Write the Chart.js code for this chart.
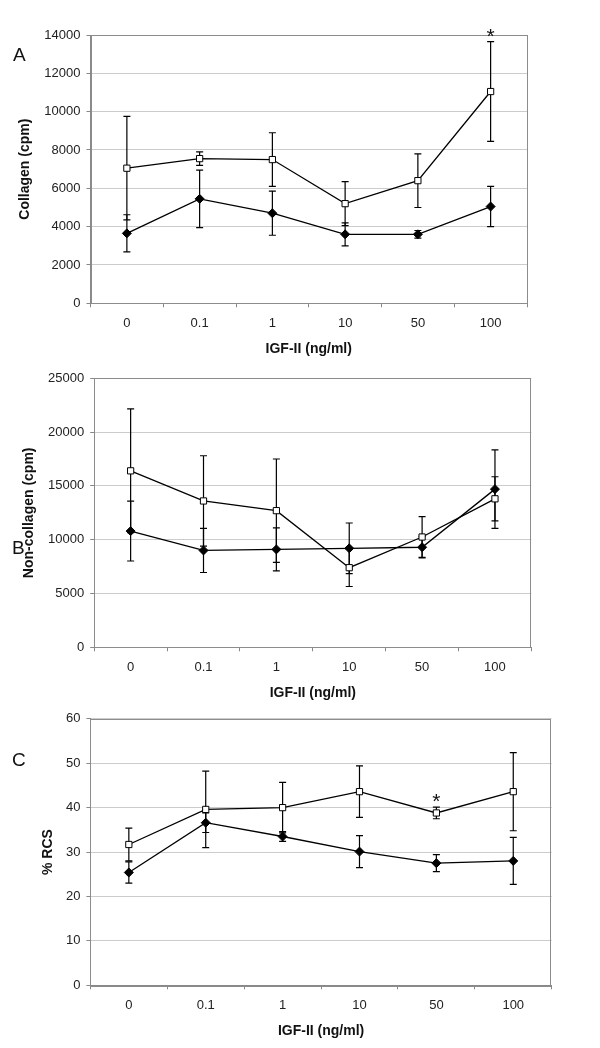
<!DOCTYPE html>
<html>
<head>
<meta charset="utf-8">
<script src="https://cdn.jsdelivr.net/npm/chart.js@4.4.0/dist/chart.umd.min.js"></script>
<style>
  body { margin: 0; background: #fff; width: 600px; height: 1048px; position: relative; overflow: hidden;
         font-family: 'Liberation Sans', Arial, sans-serif; }
  .panel { position: absolute; left: 0; width: 600px; }
  .letter { position: absolute; font-size: 19px; line-height: 22px; color: #111; }
</style>
</head>
<body>
<div class="panel" style="top:0;height:360px"><canvas id="chartA" width="600" height="360"></canvas></div>
<div class="panel" style="top:360px;height:345px"><canvas id="chartB" width="600" height="345"></canvas></div>
<div class="panel" style="top:705px;height:343px"><canvas id="chartC" width="600" height="343"></canvas></div>
<div class="letter" style="left:13px;top:44px">A</div>
<div class="letter" style="left:12px;top:537px">B</div>
<div class="letter" style="left:12px;top:749px">C</div>

<script>
// --- DATA ---
const categories = ['0', '0.1', '1', '10', '50', '100'];

// A: collagen (cpm)
const collagenSquare = [7050, 7550, 7500, 5200, 6400, 11050];
const collagenSquareErr = [2700, 350, 1400, 1150, 1400, 2600];
const collagenDiamond = [3650, 5450, 4700, 3600, 3600, 5050];
const collagenDiamondErr = [970, 1500, 1150, 600, 200, 1050];
const collagenStars = ['', '', '', '', '', '*'];
const collagenTicks = [0, 14000, 2000];

// B: non-collagen (cpm)
const nonCollagenSquare = [16400, 13600, 12700, 7400, 10250, 13800];
const nonCollagenSquareErr = [5750, 4200, 4800, 1750, 1900, 2050];
const nonCollagenDiamond = [10800, 9000, 9100, 9200, 9300, 14700];
const nonCollagenDiamondErr = [2780, 2050, 2000, 2350, 1000, 3650];
const nonCollagenStars = ['', '', '', '', '', ''];
const nonCollagenTicks = [0, 25000, 5000];

// C: % RCS
const rcsSquare = [31.7, 39.6, 40.0, 43.6, 38.8, 43.6];
const rcsSquareErr = [3.7, 8.6, 5.7, 5.8, 1.3, 8.8];
const rcsDiamond = [25.4, 36.6, 33.5, 30.1, 27.5, 28.0];
const rcsDiamondErr = [2.4, 2.2, 1.1, 3.6, 1.9, 5.3];
const rcsStars = ['', '', '', '', '*', ''];
const rcsTicks = [0, 60, 10];

Chart.defaults.font.family = "'Liberation Sans', Arial, sans-serif";
Chart.defaults.font.size = 13;
Chart.defaults.color = '#222';

// error bars + significance stars, drawn from the y scale
const errorBars = {
    id: 'errorBars',
    beforeDatasetsDraw(chart) {
        const ctx = chart.ctx, yScale = chart.scales.y, a = chart.chartArea;
        ctx.save();
        // plot area frame
        ctx.strokeStyle = '#8c8c8c';
        ctx.lineWidth = 1;
        ctx.strokeRect(Math.round(a.left) + 0.5, Math.round(a.top) + 0.5,
                       Math.round(a.right - a.left) - 1, Math.round(a.bottom - a.top));
        ctx.strokeStyle = '#000';
        ctx.lineWidth = 1.2;
        chart.data.datasets.forEach((ds, i) => {
            const meta = chart.getDatasetMeta(i);
            meta.data.forEach((pt, j) => {
                const top = yScale.getPixelForValue(ds.data[j] + ds.errors[j]);
                const bot = yScale.getPixelForValue(ds.data[j] - ds.errors[j]);
                ctx.beginPath();
                ctx.moveTo(pt.x, top); ctx.lineTo(pt.x, bot);
                ctx.moveTo(pt.x - 3.5, top); ctx.lineTo(pt.x + 3.5, top);
                ctx.moveTo(pt.x - 3.5, bot); ctx.lineTo(pt.x + 3.5, bot);
                ctx.stroke();
                if (ds.stars && ds.stars[j]) {
                    ctx.fillStyle = '#111';
                    ctx.font = "21px 'Liberation Sans', Arial, sans-serif";
                    ctx.textAlign = 'center';
                    ctx.textBaseline = 'middle';
                    ctx.fillText(ds.stars[j], pt.x, top - 5);
                }
            });
        });
        ctx.restore();
    }
};

function makePanel(id, p) {
    new Chart(document.getElementById(id), {
        type: 'line',
        data: {
            labels: categories,
            datasets: [{
                data: p.square, errors: p.squareErr, stars: p.stars,
                borderColor: '#000', borderWidth: 1.3,
                pointStyle: 'rect', pointRadius: 4.4, pointBorderWidth: 1,
                pointBackgroundColor: '#fff', pointBorderColor: '#000'
            }, {
                data: p.diamond, errors: p.diamondErr,
                borderColor: '#000', borderWidth: 1.3,
                pointStyle: 'rectRot', pointRadius: 4.5, pointBorderWidth: 1,
                pointBackgroundColor: '#000', pointBorderColor: '#000'
            }]
        },
        options: {
            responsive: false, animation: false, devicePixelRatio: 1,
            layout: { padding: { left: 0, top: p.top, right: 600 - p.right, bottom: 0 } },
            plugins: { legend: { display: false }, tooltip: { enabled: false } },
            scales: {
                x: {
                    offset: true,
                    grid: { drawOnChartArea: false, offset: true, tickLength: 4, color: '#888', tickColor: '#888' },
                    border: { color: '#888' },
                    ticks: { padding: 8, color: '#222' },
                    title: { display: true, text: 'IGF-II (ng/ml)', color: '#111',
                             font: { size: 14, weight: 'bold' }, padding: { top: 0, bottom: p.xTitlePad } },
                    afterFit: s => { s.height = p.height - p.bottom; }
                },
                y: {
                    min: p.ticks[0], max: p.ticks[1],
                    ticks: { stepSize: p.ticks[2], padding: 6, color: '#222', callback: v => String(v) },
                    grid: { color: '#cccccc', tickLength: 4, tickColor: '#888' },
                    border: { color: '#888' },
                    title: { display: true, text: p.yTitle, color: '#111',
                             font: { size: 14, weight: 'bold' }, padding: { top: p.yTitlePad, bottom: 0 } },
                    afterFit: s => { s.width = p.left; }
                }
            }
        },
        plugins: [errorBars]
    });
}

makePanel('chartA', {
    square: collagenSquare, squareErr: collagenSquareErr,
    diamond: collagenDiamond, diamondErr: collagenDiamondErr, stars: collagenStars,
    ticks: collagenTicks, yTitle: 'Collagen (cpm)',
    height: 360, left: 90.5, right: 527, top: 35, bottom: 303.3, xTitlePad: 2.6, yTitlePad: 16.6
});
makePanel('chartB', {
    square: nonCollagenSquare, squareErr: nonCollagenSquareErr,
    diamond: nonCollagenDiamond, diamondErr: nonCollagenDiamondErr, stars: nonCollagenStars,
    ticks: nonCollagenTicks, yTitle: 'Non-collagen (cpm)',
    height: 345, left: 94.2, right: 531.4, top: 18.3, bottom: 287.3, xTitlePad: 3.3, yTitlePad: 20.6
});
makePanel('chartC', {
    square: rcsSquare, squareErr: rcsSquareErr,
    diamond: rcsDiamond, diamondErr: rcsDiamondErr, stars: rcsStars,
    ticks: rcsTicks, yTitle: '% RCS',
    height: 343, left: 90.4, right: 551.7, top: 10, bottom: 280.3, xTitlePad: 8.6, yTitlePad: 39.6
});
</script>
</body>
</html>
